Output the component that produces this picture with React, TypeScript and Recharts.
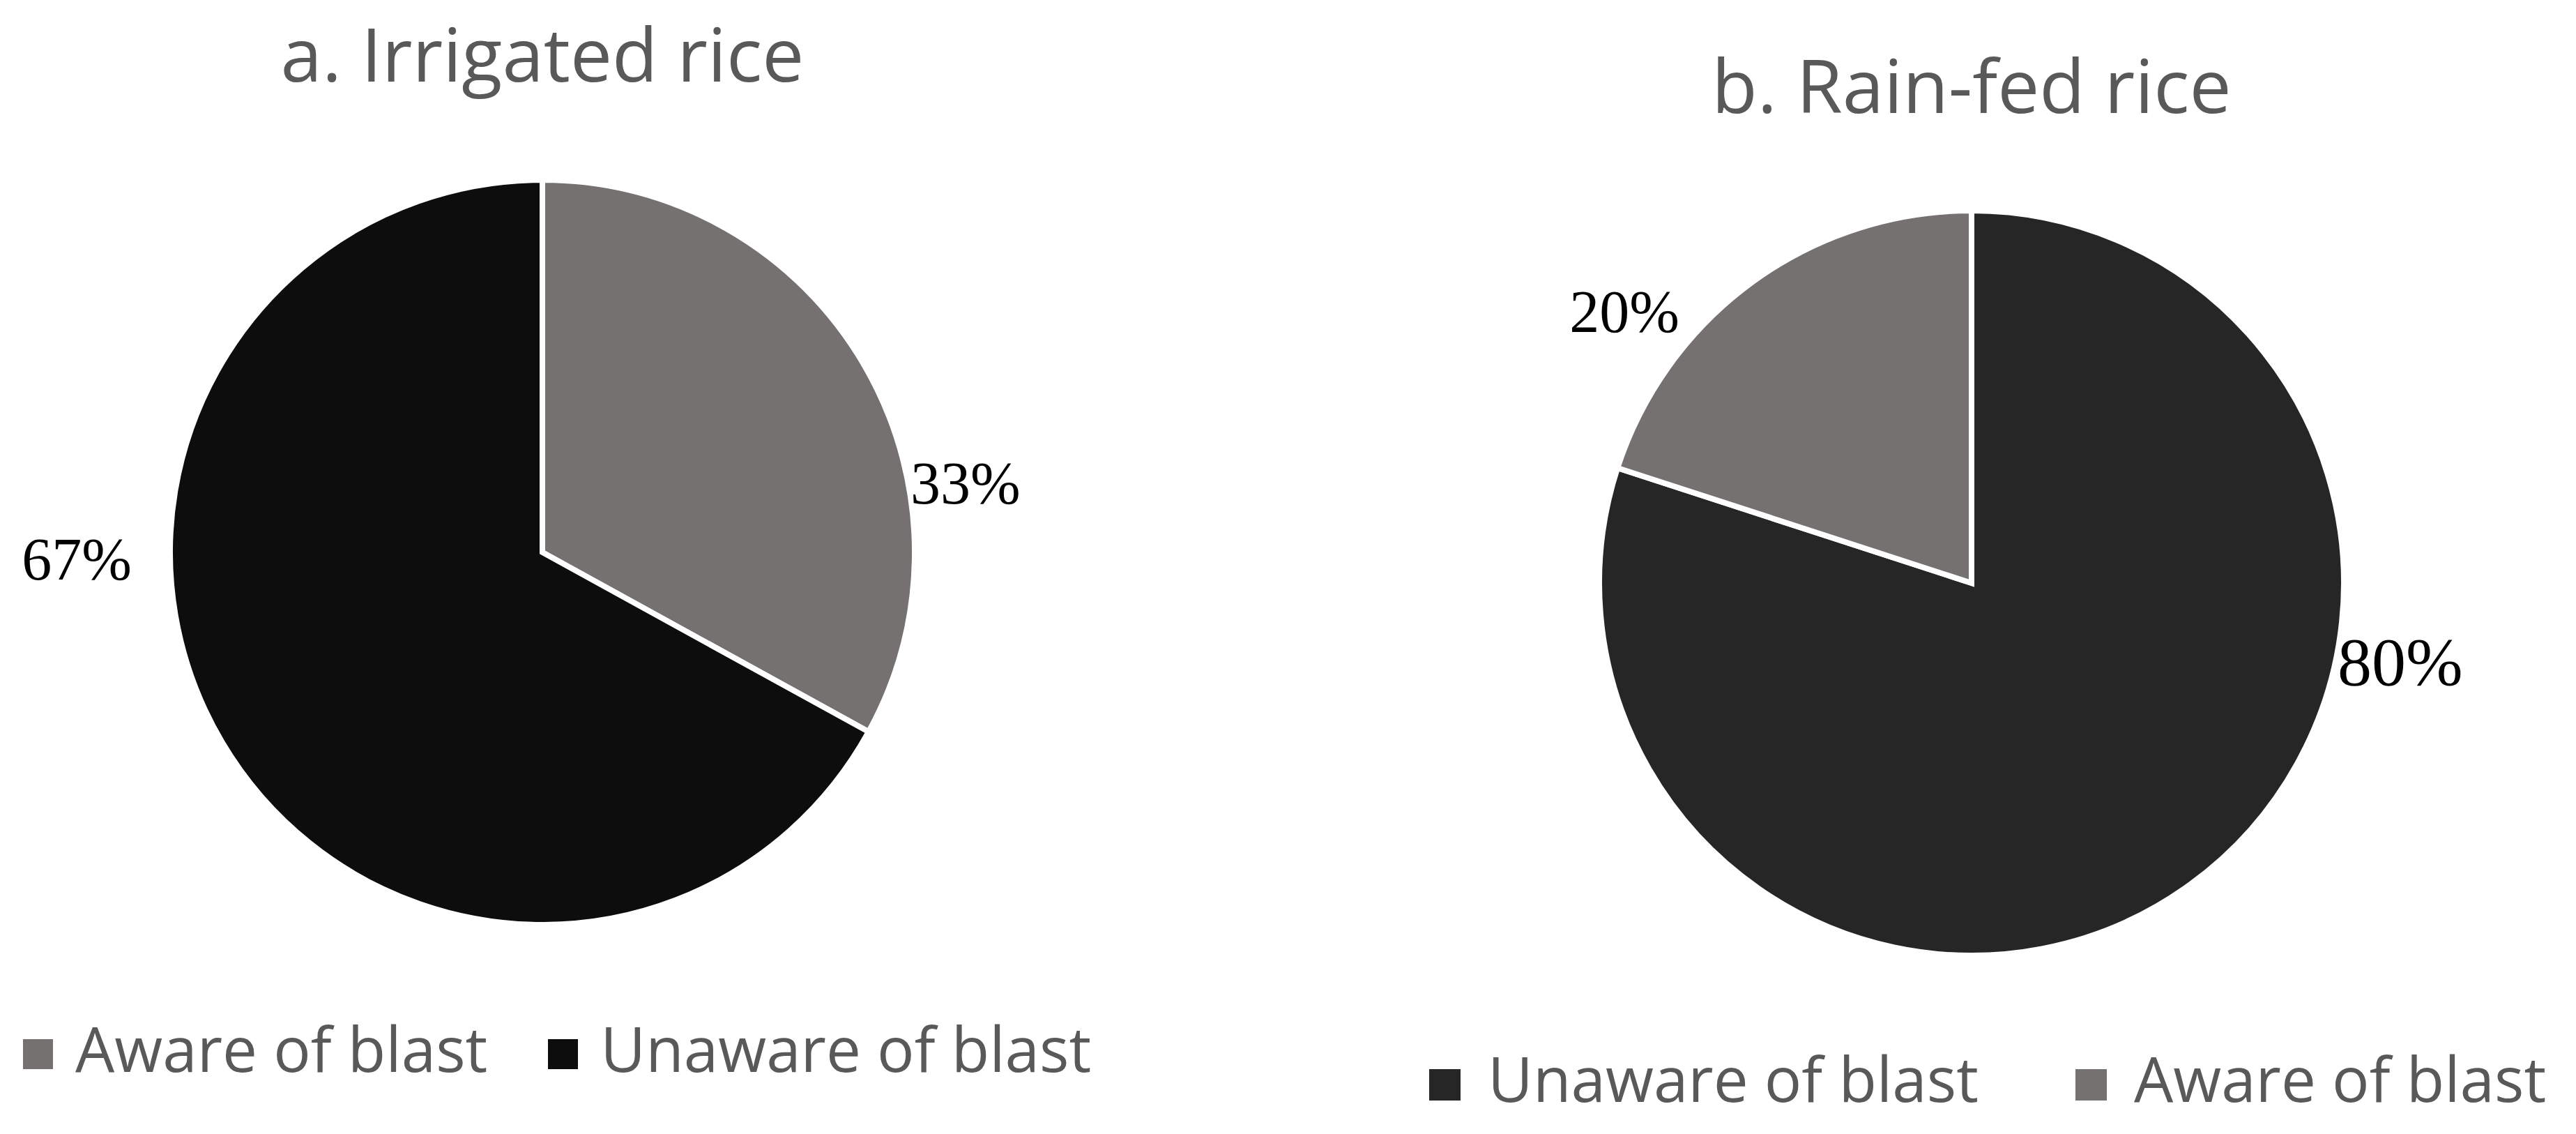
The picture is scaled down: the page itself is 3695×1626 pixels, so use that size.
import React from 'react';
import { PieChart, Pie, Cell, Legend } from 'recharts';

// Awareness of rice blast among farmers (%)
const irrigatedNames = ['Aware of blast', 'Unaware of blast'];
const irrigatedValues = [33, 67];
const rainfedNames = ['Unaware of blast', 'Aware of blast'];
const rainfedValues = [80, 20];

const irrigatedColors = ['#767171', '#0d0d0d'];
const rainfedColors = ['#262626', '#767171'];

// where each percentage label sits (angle in degrees, distance past the rim) - Excel "best fit" look
const irrigatedLabelPos = [{ angle: 9.3, gap: 85, size: 86 }, { angle: 180.9, gap: 138, size: 86 }];
const rainfedLabelPos = [{ angle: -10.4, gap: 95, size: 98 }, { angle: 142, gap: 102, size: 86 }];

const RADIAN = Math.PI / 180;
const SANS = '"Open Sans", sans-serif';
const TEXT_GREY = '#595959';

interface PanelProps {
    title: string;
    names: string[];
    values: number[];
    colors: string[];
    labelPos: { angle: number; gap: number; size: number }[];
    left: number;
    width: number;
    cx: number;
    cy: number;
    titleTop: number;
    legendLeft: number;
    legendTop: number;
    swatch: number;
    swatchGap: number;
    itemGap: number;
}

const PiePanel: React.FC<PanelProps> = (p) => {
    const data = p.names.map((name, i) => ({ name, value: p.values[i] }));

    const renderLabel = (props: any) => {
        const { cx, cy, outerRadius, index, value } = props;
        const pos = p.labelPos[index];
        const r = outerRadius - 4 + pos.gap;
        const x = cx + r * Math.cos(pos.angle * RADIAN);
        const y = cy - r * Math.sin(pos.angle * RADIAN);
        return (
            <text
                x={x}
                y={y}
                fill="#000"
                textAnchor="middle"
                dominantBaseline="central"
                style={{ fontFamily: '"Liberation Serif", "Times New Roman", serif', fontSize: pos.size }}
            >
                {`${value}%`}
            </text>
        );
    };

    // legend keeps the data order (Recharts would sort it by name otherwise)
    const renderLegend = () => (
        <div style={{ display: 'flex', alignItems: 'flex-start' }}>
            {p.names.map((name, i) => (
                <div key={name} style={{ display: 'flex', alignItems: 'flex-start', marginRight: i < p.names.length - 1 ? p.itemGap : 0 }}>
                    <span style={{ display: 'inline-block', width: p.swatch, height: p.swatch, background: p.colors[i], marginTop: 32, marginRight: p.swatchGap }} />
                    <span style={{ fontFamily: SANS, fontSize: 89, lineHeight: 1, color: TEXT_GREY, whiteSpace: 'nowrap' }}>{name}</span>
                </div>
            ))}
        </div>
    );

    return (
        <div style={{ position: 'absolute', left: p.left, top: 0, width: p.width, height: 1626 }}>
            <div
                style={{
                    position: 'absolute', left: p.cx - 700, width: 1400, top: p.titleTop, textAlign: 'center',
                    fontFamily: SANS, fontSize: 107, lineHeight: 1, color: TEXT_GREY, whiteSpace: 'nowrap'
                }}
            >
                {p.title}
            </div>
            <PieChart width={p.width} height={1626} margin={{ top: 0, right: 0, bottom: 0, left: 0 }}>
                <Pie
                    data={data}
                    dataKey="value"
                    nameKey="name"
                    cx={p.cx}
                    cy={p.cy}
                    outerRadius={534}
                    startAngle={90}
                    endAngle={-270}
                    stroke="#ffffff"
                    strokeWidth={8}
                    label={renderLabel}
                    labelLine={false}
                    isAnimationActive={false}
                >
                    {data.map((d, i) => (
                        <Cell key={d.name} fill={p.colors[i]} />
                    ))}
                </Pie>
                <Legend
                    content={renderLegend}
                    wrapperStyle={{ left: p.legendLeft, top: p.legendTop, width: 'auto', bottom: 'auto' }}
                />
            </PieChart>
        </div>
    );
};

const App: React.FC = () => (
    <div style={{ position: 'absolute', left: 0, top: 0, width: 3695, height: 1626, background: '#fff', overflow: 'hidden' }}>
        <PiePanel
            title="a. Irrigated rice"
            names={irrigatedNames}
            values={irrigatedValues}
            colors={irrigatedColors}
            labelPos={irrigatedLabelPos}
            left={0}
            width={1848}
            cx={778}
            cy={792}
            titleTop={22}
            legendLeft={33}
            legendTop={1458}
            swatch={43}
            swatchGap={32}
            itemGap={87}
        />
        <PiePanel
            title="b. Rain-fed rice"
            names={rainfedNames}
            values={rainfedValues}
            colors={rainfedColors}
            labelPos={rainfedLabelPos}
            left={1848}
            width={1847}
            cx={980}
            cy={836}
            titleTop={67}
            legendLeft={202}
            legendTop={1501}
            swatch={45}
            swatchGap={39}
            itemGap={139}
        />
    </div>
);

export default App;
